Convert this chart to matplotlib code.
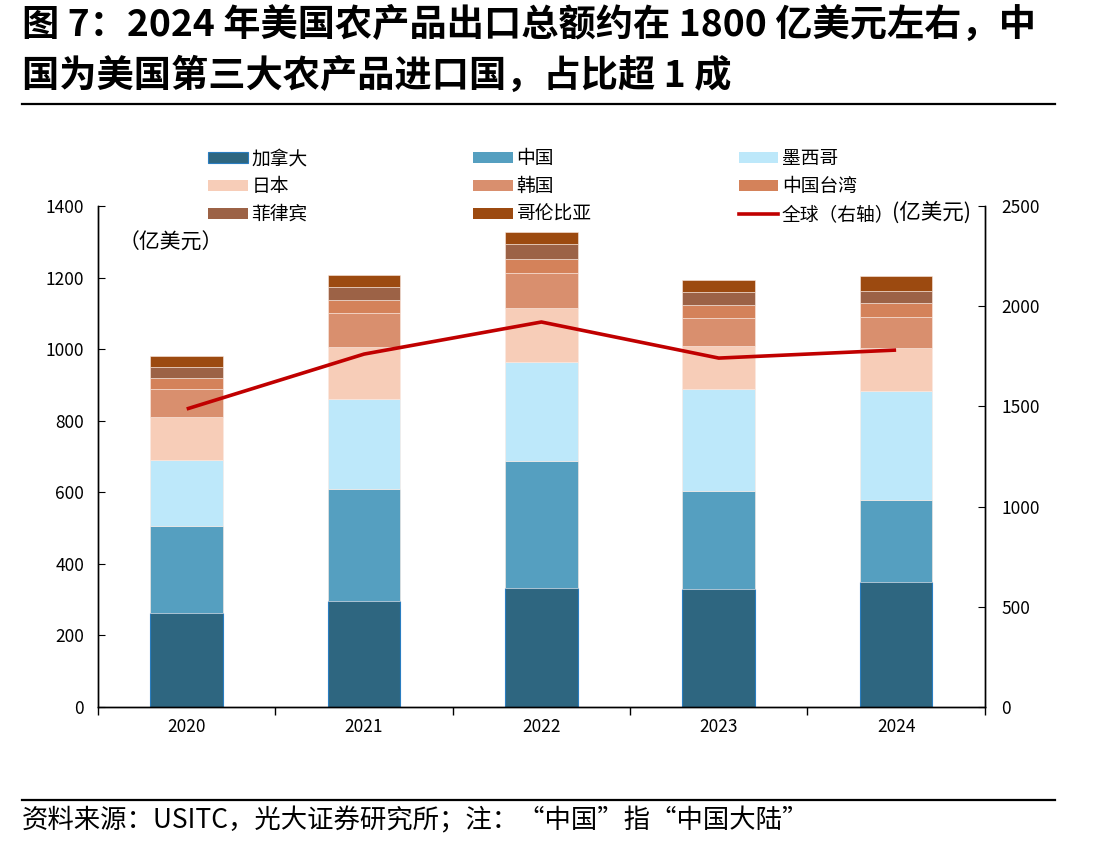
import numpy as np
import matplotlib
matplotlib.use("Agg")
import matplotlib.pyplot as plt
from matplotlib.patches import Patch
from matplotlib.lines import Line2D

plt.rcParams['font.family'] = ['Noto Sans CJK SC', 'DejaVu Sans']

years = ['2020', '2021', '2022', '2023', '2024']
# exports by destination (亿美元)
canada = [263, 296, 333, 330, 349]
china = [243, 313, 354, 274, 229]
mexico = [183, 252, 278, 284, 305]
japan = [120, 146, 151, 121, 121]
korea = [80, 94, 96, 77, 87]
taiwan = [31, 37, 41, 37, 38]
philippines = [31, 35, 41, 36, 33]
colombia = [29, 34, 34, 34, 43]
world = [1487, 1761, 1921, 1741, 1781]

names = ['加拿大', '中国', '墨西哥', '日本', '韩国', '中国台湾', '菲律宾', '哥伦比亚']
colors = ['#2E6680', '#559FC0', '#BDE8FA', '#F7CDB8', '#D98F6E', '#D4825A', '#9C6246', '#9C4A10']


def main():
    fig = plt.figure(figsize=(11.14, 8.48), dpi=100)
    ax = fig.add_axes([0.088, 0.1663, 0.796, 0.5908])
    ax2 = ax.twinx()

    x = np.arange(len(years))
    series = [canada, china, mexico, japan, korea, taiwan, philippines, colombia]
    bottom = np.zeros(len(years))
    handles = []
    for i, (vals, name, c) in enumerate(zip(series, names, colors)):
        if i == 0:
            ax.bar(x, vals, 0.41, bottom=bottom, color=c, edgecolor='#2A7DC0', linewidth=0.8, zorder=2)
            handles.append(Patch(facecolor=c, edgecolor='#2A7DC0', linewidth=0.8, label=name))
        else:
            ax.bar(x, vals, 0.41, bottom=bottom, color=c, edgecolor='#FBEAE2', linewidth=0.4, zorder=2)
            handles.append(Patch(facecolor=c, label=name))
        bottom += np.array(vals)

    ax2.plot(x, world, color='#C00000', linewidth=2.6, solid_capstyle='butt')
    handles.append(Line2D([0], [0], color='#C00000', linewidth=2.6, label='全球（右轴）'))

    ax.set_xlim(-0.5, 4.5)
    ax.set_ylim(0, 1400)
    ax.set_yticks(range(0, 1401, 200))
    ax2.set_ylim(0, 2500)
    ax2.set_yticks(range(0, 2501, 500))

    ax.set_xticks(x)
    ax.set_xticklabels(years)
    ax.set_xticks(np.arange(-0.5, 4.6, 1), minor=True)
    ax.tick_params(axis='x', which='major', length=0, pad=8, labelsize=12.5)
    ax.tick_params(axis='x', which='minor', length=6, direction='out', width=1)
    ax.tick_params(axis='y', direction='in', length=5, pad=10, labelsize=12.5)
    ax2.tick_params(axis='y', direction='in', length=5, pad=12, labelsize=12.5)

    for a in (ax, ax2):
        a.spines['top'].set_visible(False)
        for s in ('left', 'right', 'bottom'):
            a.spines[s].set_linewidth(1)

    # legend in three columns, one legend per column
    cols_x = [0.187, 0.425, 0.663]
    for k in range(3):
        hs = [handles[k], handles[k + 3], handles[k + 6]]
        fig.legend(handles=hs, loc='upper left', bbox_to_anchor=(cols_x[k], 0.825),
                   frameon=False, fontsize=13.5, handlelength=2.1, handleheight=0.55,
                   handletextpad=0.2, labelspacing=0.36, borderpad=0, borderaxespad=0)

    fig.text(0.1065, 0.714, '（亿美元）', fontsize=15, ha='left', va='center')
    fig.text(0.801, 0.749, '(亿美元)', fontsize=15.5, ha='left', va='center')

    fig.text(0.0197, 0.970, '图 7：2024 年美国农产品出口总额约在 1800 亿美元左右，中',
             fontsize=26.8, fontweight='bold', ha='left', va='center')
    fig.text(0.0197, 0.910, '国为美国第三大农产品进口国，占比超 1 成',
             fontsize=26.8, fontweight='bold', ha='left', va='center')
    fig.add_artist(Line2D([0.0197, 0.947], [0.877, 0.877], color='black', linewidth=1.6))

    fig.add_artist(Line2D([0.0197, 0.947], [0.057, 0.057], color='black', linewidth=1.6))
    fig.text(0.0197, 0.032, '资料来源：USITC，光大证券研究所；注：“中国”指“中国大陆”',
             fontsize=19, ha='left', va='center')

    fig.savefig('out.png', dpi=100)


if __name__ == "__main__":
    main()
